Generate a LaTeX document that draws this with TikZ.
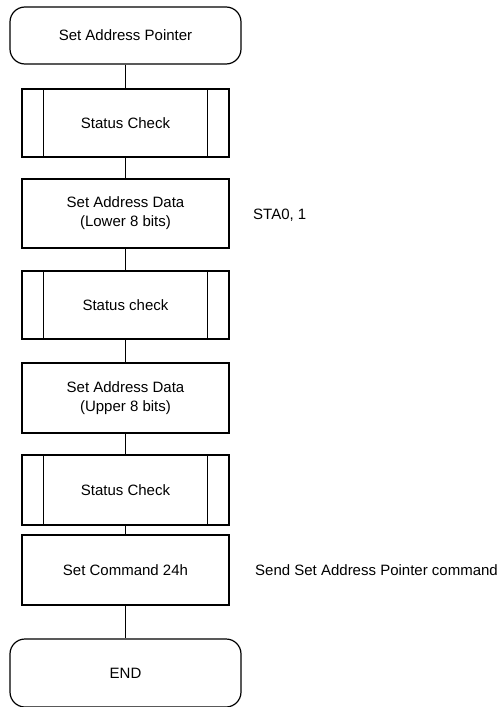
\documentclass[tikz,border=0pt]{standalone}
\usepackage{fontspec}
\setmainfont{Liberation Sans}
\usepackage{tikz}

\tikzset{
  term/.style={draw, line width=1.2pt, rounded corners=15pt, minimum width=231pt, minimum height=57pt, inner sep=0pt, align=center},
  proc/.style={draw, line width=1.2pt, minimum width=207pt, minimum height=69pt, inner sep=0pt, align=center},
  note/.style={anchor=west, inner sep=0pt, align=left}
}

\begin{document}
\begin{tikzpicture}[x=1pt,y=1pt,yscale=-1,xscale=1,font=\fontsize{15}{19}\selectfont]
\useasboundingbox (0,0) rectangle (502,707);

%Shape: Terminal
\node [term] (start) at (125.5,35.5) {Set Address Pointer};
%Shape: Predefined Process
\node [proc, minimum height=68pt] (sc1) at (125.5,123) {Status Check};
%Shape: Rectangle
\node [proc] (lower) at (125.5,213.5) {Set Address Data\\(Lower 8 bits)};
%Shape: Predefined Process
\node [proc, minimum height=68pt] (sc2) at (125.5,305) {Status check};
%Shape: Rectangle
\node [proc, minimum height=70pt] (upper) at (125.5,398) {Set Address Data\\(Upper 8 bits)};
%Shape: Predefined Process
\node [proc, minimum height=70pt] (sc3) at (125.5,490) {Status Check};
%Shape: Rectangle
\node [proc, minimum height=70pt] (cmd) at (125.5,570) {Set Command 24h};
%Shape: Terminal
\node [term, minimum height=68pt] (end) at (125.5,673) {END};

%Straight Lines: side bars of the status checks
\foreach \n in {sc1,sc2,sc3}{
  \draw [line width=1.2pt] ([xshift=22pt]\n.north west) -- ([xshift=22pt]\n.south west);
  \draw [line width=1.2pt] ([xshift=-22pt]\n.north east) -- ([xshift=-22pt]\n.south east);
}

%Straight Lines: flow
\foreach \a/\b in {start/sc1, sc1/lower, lower/sc2, sc2/upper, upper/sc3, sc3/cmd, cmd/end}
  \draw [line width=1.2pt] (\a) -- (\b);

% Text Node
\node [note] (sta) at (253,215) {STA0, 1};
% Text Node
\node [note] (send) at (255,570) {Send Set Address Pointer command};
\end{tikzpicture}
\end{document}
